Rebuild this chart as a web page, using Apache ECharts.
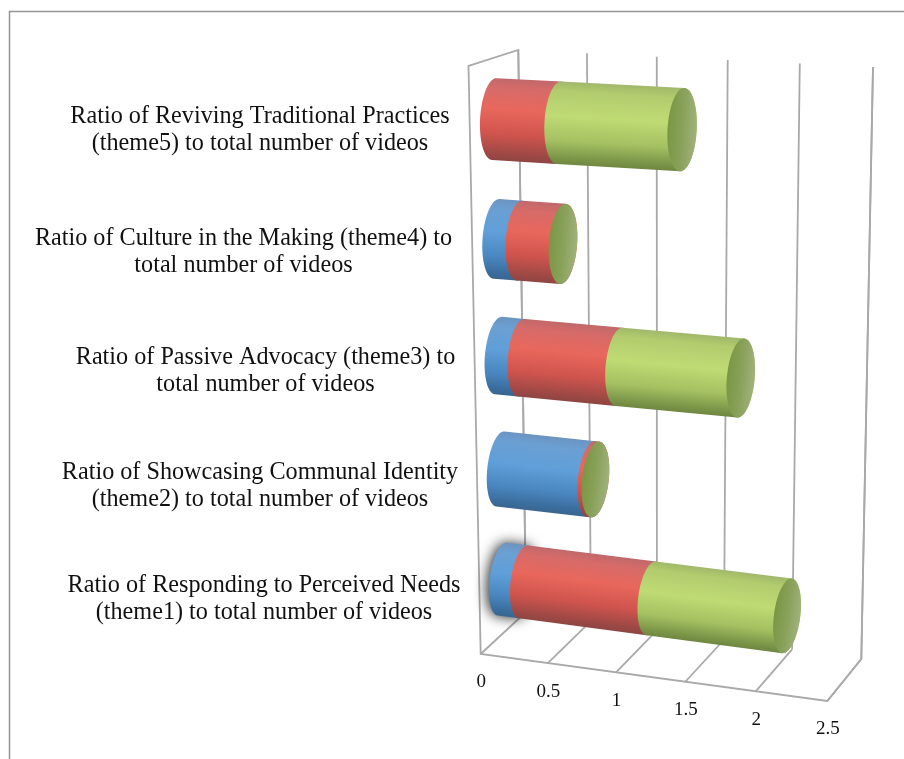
<!DOCTYPE html>
<html>
<head>
<meta charset="utf-8">
<style>html,body{margin:0;padding:0;background:#fff}#c{width:904px;height:759px}</style>
<script src="https://cdn.jsdelivr.net/npm/echarts@6/dist/echarts.min.js"></script>
</head>
<body>
<div id="c"></div>
<script>
// ---- data (bottom category first, as on a horizontal bar chart) ----
const categories = [
  "Ratio of Responding to Perceived Needs\n(theme1) to total number of videos",
  "Ratio of Showcasing Communal Identity\n(theme2) to total number of videos",
  "Ratio of Passive Advocacy (theme3) to\ntotal number of videos",
  "Ratio of Culture in the Making (theme4) to\ntotal number of videos",
  "Ratio of Reviving Traditional Practices\n(theme5) to total number of videos"
];
const blueValues  = [0.16, 0.675, 0.17, 0.17, 0];
const redValues   = [0.95, 0.03, 0.715, 0.315, 0.465];
const greenValues = [0.98, 0, 0.865, 0, 0.87];
const xTicks = [0, 0.5, 1, 1.5, 2, 2.5];

// ---- layout ----
const W = 904, H = 759;
const labelCenterX = [264, 260, 265.5, 243.5, 260];
const labelCenterY = [599, 486, 371, 252, 130];
const glowCategory = 0;
const corners = {
  fTL:[468.5,66], fBL:[480.7,654], fTR:[834,83],  fBR:[827.3,701],
  bTL:[518.3,50], bBL:[526,612],   bTR:[873,67],  bBR:[861.3,659]
};
const lerp = (a,b,t)=>[a[0]+(b[0]-a[0])*t, a[1]+(b[1]-a[1])*t];
function project(u,v,d){
  const uw = u-0.04*u*(1-u), vw = v+0.07*v*(1-v);
  const f = lerp(lerp(corners.fTL,corners.fTR,uw), lerp(corners.fBL,corners.fBR,uw), vw);
  const b = lerp(lerp(corners.bTL,corners.bTR,uw), lerp(corners.bBL,corners.bBR,uw), vw);
  return lerp(f,b,d);
}
// flat grid covers the whole canvas, so pixel = fraction * size
const toU = (api,val)=>api.coord([val,0])[0]/W;
const toV = (api,cat)=>api.coord([0,cat])[1]/H;

function cylinderFrame(api,cat,a,b){
  const v = toV(api,cat), band = Math.abs(api.size([0,1])[1])/H;
  const u0 = toU(api,0), u1 = toU(api,2.5);
  const p0 = project(u0,v,0.5), p1 = project(u1,v,0.5);
  const len = Math.hypot(p1[0]-p0[0],p1[1]-p0[1]);
  const t = [(p1[0]-p0[0])/len,(p1[1]-p0[1])/len];
  const n = [t[1],-t[0]];
  const up = project(u0,v-band/2,0.5), dn = project(u0,v+band/2,0.5);
  const R0 = 0.338*Math.hypot(up[0]-dn[0],up[1]-dn[1]);
  const grow = x=>R0*(1+0.012*x);
  return {S:project(toU(api,a),v,0.5),E:project(toU(api,b),v,0.5),t,n,RS:grow(a),RE:grow(b)};
}
const ptOn=(c,f,R,th)=>{
  const r=0.35*R;
  return [c[0]+R*f.n[0]*Math.sin(th)+r*f.t[0]*Math.cos(th),
          c[1]+R*f.n[1]*Math.sin(th)+r*f.t[1]*Math.cos(th)];
};
function bodyPoints(f){
  const pts=[];
  for(let i=0;i<=30;i++){pts.push(ptOn(f.S,f,f.RS,Math.PI/2+Math.PI*i/30));}
  for(let i=0;i<=30;i++){pts.push(ptOn(f.E,f,f.RE,-Math.PI/2+Math.PI*i/30));}
  return pts;
}
function capPoints(f){
  const pts=[];
  for(let i=0;i<60;i++){pts.push(ptOn(f.E,f,f.RE,2*Math.PI*i/60));}
  return pts;
}
const shades = {
  blue:[[0,'#6c93bf'],[0.12,'#6b9fd2'],[0.42,'#609fd9'],[0.72,'#4a87c0'],[0.93,'#3a6c9c'],[1,'#3a6690']],
  red:[[0,'#c0686a'],[0.12,'#d66b69'],[0.38,'#e9675c'],[0.68,'#cf544d'],[0.92,'#9e4845'],[1,'#8e4542']],
  green:[[0,'#a0b86a'],[0.12,'#b2cc6e'],[0.42,'#bfdb74'],[0.72,'#a4c061'],[0.93,'#7a9448'],[1,'#6f8740']]
};
function segmentRenderer(key,withCap){
  return function(params,api){
    const a=api.value(0), b=api.value(1), cat=api.value(2);
    const f=cylinderFrame(api,cat,a,b);
    const children=[];
    if(b>a){
      const m=[(f.S[0]+f.E[0])/2,(f.S[1]+f.E[1])/2], R=(f.RS+f.RE)/2;
      const style={
        fill:new echarts.graphic.LinearGradient(
          m[0]+R*f.n[0],m[1]+R*f.n[1],m[0]-R*f.n[0],m[1]-R*f.n[1],
          shades[key].map(s=>({offset:s[0],color:s[1]})),true)
      };
      if(key==='blue' && cat===glowCategory){style.shadowBlur=13;style.shadowOffsetX=-2;style.shadowColor='rgba(30,30,30,0.95)';}
      children.push({type:'polygon',shape:{points:bodyPoints(f)},style});
    }
    if(withCap){
      const e=f.E, r=0.35*f.RE;
      children.push({type:'polygon',shape:{points:capPoints(f)},style:{
        fill:new echarts.graphic.LinearGradient(
          e[0]-r*f.t[0],e[1]-r*f.t[1],e[0]+r*f.t[0],e[1]+r*f.t[1],
          [{offset:0,color:'#7a9744'},{offset:0.5,color:'#89a15a'},{offset:1,color:'#a0b27c'}],true)
      }});
    }
    return {type:'group',children};
  };
}
function rows(starts,vals){return vals.map((x,i)=>[starts[i],starts[i]+x,i]);}
const blueRows=rows(categories.map(()=>0),blueValues);
const redRows=rows(blueRows.map(r=>r[1]),redValues);
const greenRows=rows(redRows.map(r=>r[1]),greenValues);

const LINE={stroke:'#a9a9a9',lineWidth:1.8,fill:null};
const TEXTFONT='"Liberation Serif"';

const option={
  animation:false,
  backgroundColor:'#ffffff',
  grid:{left:0,top:0,width:W,height:H,containLabel:false},
  xAxis:{type:'value',min:0,max:2.5,interval:0.5,show:false},
  yAxis:{type:'category',data:categories,show:false},
  graphic:[{type:'polyline',shape:{points:[[9.5,759],[9.5,11.5],[904,11.5]]},
            style:{stroke:'#949494',lineWidth:1.5,fill:null},silent:true}],
  series:[
    {type:'custom',name:'walls',silent:true,clip:false,z:1,data:[[0,0]],encode:{x:0,y:1},
     renderItem(params,api){
       const u0=toU(api,0),u1=toU(api,2.5);
       const poly=(pts)=>({type:'polyline',shape:{points:pts},style:LINE});
       return {type:'group',children:[
         poly([project(u0,1,1),project(u0,0,1),project(u0,0,0),project(u0,1,0),project(u1,1,0),project(u1,1,1),project(u1,0,1)])
       ]};
     }},
    {type:'custom',name:'ticks',silent:true,clip:false,z:1,
     data:xTicks.map(t=>[t,0]),encode:{x:0,y:1},
     renderItem(params,api){
       const u=toU(api,api.value(0));
       const f=project(u,1,0);
       return {type:'group',children:[
         {type:'line',shape:{x1:f[0],y1:f[1],x2:project(u,1,1)[0],y2:project(u,1,1)[1]},style:LINE},
         {type:'line',shape:{x1:project(u,1,1)[0],y1:project(u,1,1)[1],x2:project(u,0,1)[0],y2:project(u,0,1)[1]},style:LINE},
         {type:'text',style:{x:f[0]+0.5,y:f[1]+28.5,text:String(api.value(0)),align:'center',verticalAlign:'middle',
           fontFamily:TEXTFONT,fontSize:19,fill:'#111'}}
       ]};
     }},
    {type:'custom',name:'Blue',silent:true,clip:false,z:2,data:blueRows,encode:{x:[0,1],y:2},renderItem:segmentRenderer('blue',false)},
    {type:'custom',name:'Red',silent:true,clip:false,z:3,data:redRows,encode:{x:[0,1],y:2},renderItem:segmentRenderer('red',false)},
    {type:'custom',name:'Green',silent:true,clip:false,z:4,data:greenRows,encode:{x:[0,1],y:2},renderItem:segmentRenderer('green',true)},
    {type:'custom',name:'labels',silent:true,clip:false,z:5,
     data:categories.map((c,i)=>[0,i]),encode:{x:0,y:1},
     renderItem(params,api){
       const i=params.dataIndex;
       return {type:'text',style:{x:labelCenterX[i],y:labelCenterY[i],text:categories[i],
         align:'center',verticalAlign:'middle',fontFamily:TEXTFONT,fontSize:24.2,lineHeight:26.5,fill:'#111'}};
     }}
  ]
};
const chart=echarts.init(document.getElementById('c'),null,{renderer:'canvas'});
chart.setOption(option);
</script>
</body>
</html>
